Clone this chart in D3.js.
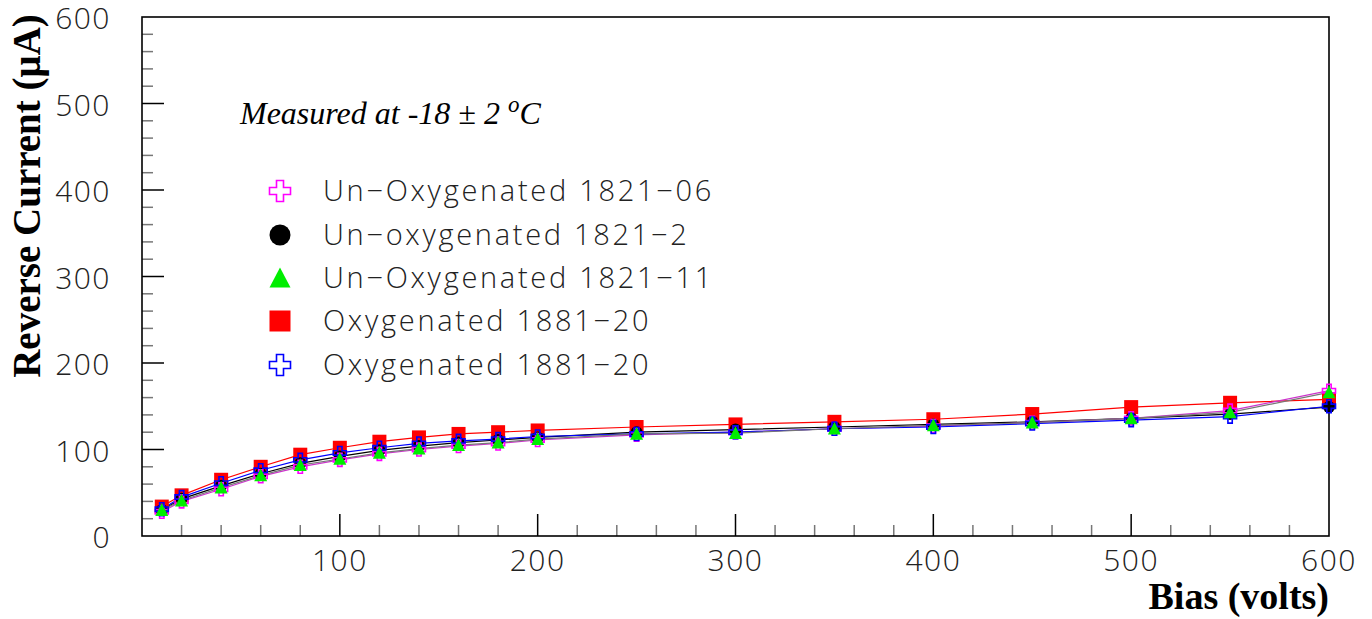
<!DOCTYPE html>
<html>
<head>
<meta charset="utf-8">
<script src="https://cdn.jsdelivr.net/npm/d3@7"></script>
<style>
  html, body { margin: 0; padding: 0; background: #fff; }
  svg { display: block; }
  .tick-label { font-family: "Open Sans", "DejaVu Sans", sans-serif; font-weight: 300; font-size: 30px; letter-spacing: 1.5px; fill: #222; }
  .legend-label { font-family: "Open Sans", "DejaVu Sans", sans-serif; font-weight: 300; font-size: 29px; letter-spacing: 2.7px; fill: #222; }
  .axis-title { font-family: "Liberation Serif", "Times New Roman", serif; font-weight: bold; fill: #000; }
</style>
</head>
<body>
<svg id="chart" width="1372" height="619"></svg>
<script>
// Bias voltages (V)
const bias = [10, 20, 40, 60, 80, 100, 120, 140, 160, 180, 200, 250, 300, 350, 400, 450, 500, 550, 600];

// Reverse current (µA) per detector
const unOxy1821_06 = [28, 40, 54, 69, 80, 88, 95, 100, 104, 107, 111, 117, 120, 124, 127, 131, 136, 145, 168];
const unOxy1821_2  = [30, 43, 58, 72, 84, 92, 99, 104, 108, 111, 114, 120, 123, 126, 129, 132, 136, 141, 149];
const unOxy1821_11 = [30, 41, 56, 70, 82, 89, 96, 101, 105, 108, 112, 118, 119, 124, 128, 131, 136, 143, 166];
const oxy1881_20a  = [34, 47, 65, 80, 94, 102, 109, 114, 118, 120, 122, 126, 129, 132, 135, 141, 149, 154, 158];
const oxy1881_20b  = [31, 45, 61, 76, 88, 96, 102, 107, 110, 112, 115, 118, 120, 124, 126, 130, 134, 138, 150];

const legendNames = ["Un\u2212Oxygenated 1821\u221206", "Un\u2212oxygenated 1821\u22122", "Un\u2212Oxygenated 1821\u221211", "Oxygenated 1881\u221220", "Oxygenated 1881\u221220"];
const xTickValues = [100, 200, 300, 400, 500, 600];
const yTickValues = [0, 100, 200, 300, 400, 500, 600];

const series = [
  { name: legendNames[0], values: unOxy1821_06, color: "#ff00ff", line: "#cc33cc", marker: "openCross" },
  { name: legendNames[1], values: unOxy1821_2,  color: "#000000", line: "#000000", marker: "circle" },
  { name: legendNames[2], values: unOxy1821_11, color: "#00ee00", line: "#777777", marker: "triangle" },
  { name: legendNames[3], values: oxy1881_20a,  color: "#ff0000", line: "#ff0000", marker: "square" },
  { name: legendNames[4], values: oxy1881_20b,  color: "#0000ff", line: "#0000ff", marker: "openCross" }
];

const svg = d3.select("#chart");
const frame = { left: 142, right: 1329, top: 17, bottom: 536 };

const x = d3.scaleLinear().domain([0, 600]).range([frame.left, frame.right]);
const y = d3.scaleLinear().domain([0, 600]).range([frame.bottom, frame.top]);

// Marker path generators
function crossPath(s) {
  const a = s / 2, b = s / 6;
  return `M${-b},${-a}H${b}V${-b}H${a}V${b}H${b}V${a}H${-b}V${b}H${-a}V${-b}H${-b}Z`;
}
function drawMarker(g, type, color, size) {
  if (type === "square") {
    g.append("rect").attr("x", -size / 2).attr("y", -size / 2).attr("width", size).attr("height", size).attr("fill", color);
  } else if (type === "circle") {
    g.append("circle").attr("r", size / 2).attr("fill", color);
  } else if (type === "triangle") {
    const h = size * 0.9;
    g.append("path").attr("d", `M0,${-h / 2 - 1}L${size / 2},${h / 2}L${-size / 2},${h / 2}Z`).attr("fill", color);
  } else if (type === "openCross") {
    g.append("path").attr("d", crossPath(size)).attr("fill", "none").attr("stroke", color).attr("stroke-width", 1.6);
  }
}

// Ticks: minor every 20, major every 100, pointing into the frame
const ticks = svg.append("g");
d3.range(20, 600, 20).forEach(v => {
  const major = v % 100 === 0;
  ticks.append("line")
    .attr("x1", frame.left).attr("x2", frame.left + (major ? 22 : 11))
    .attr("y1", y(v)).attr("y2", y(v))
    .attr("stroke", major ? "#000" : "#777").attr("stroke-width", 1.5);
  ticks.append("line")
    .attr("x1", x(v)).attr("x2", x(v))
    .attr("y1", frame.bottom).attr("y2", frame.bottom - (major ? 22 : 11))
    .attr("stroke", major ? "#000" : "#777").attr("stroke-width", 1.5);
});

// Frame
svg.append("rect")
  .attr("x", frame.left).attr("y", frame.top)
  .attr("width", frame.right - frame.left).attr("height", frame.bottom - frame.top)
  .attr("fill", "none").attr("stroke", "#000").attr("stroke-width", 1.6);

// Tick labels
svg.append("g").selectAll("text").data(yTickValues).join("text")
  .attr("class", "tick-label")
  .attr("x", 111).attr("y", d => y(d) + 12)
  .attr("text-anchor", "end")
  .text(d => d);
svg.append("g").selectAll("text").data(xTickValues).join("text")
  .attr("class", "tick-label")
  .attr("x", d => x(d)).attr("y", 571)
  .attr("text-anchor", "middle")
  .text(d => d);

// Axis titles
svg.append("text").attr("class", "axis-title")
  .attr("font-size", 39)
  .attr("transform", "translate(40,196) rotate(-90)")
  .attr("text-anchor", "middle")
  .text("Reverse Current (\u03bcA)");
svg.append("text").attr("class", "axis-title")
  .attr("font-size", 38)
  .attr("x", frame.right).attr("y", 609)
  .attr("text-anchor", "end")
  .text("Bias (volts)");

// Annotation
const note = svg.append("text")
  .attr("x", 240).attr("y", 124)
  .attr("font-family", "Liberation Serif, Times New Roman, serif")
  .attr("font-style", "italic").attr("font-size", 32).attr("fill", "#000");
note.append("tspan").text("Measured at -18 \u00b1 2 ");
note.append("tspan").attr("dy", -12).attr("font-size", 23).text("o");
note.append("tspan").attr("dy", 12).text("C");

// Series lines and markers
const line = d3.line().x((d, i) => x(bias[i])).y(d => y(d));
const drawOrder = [3, 1, 0, 4, 2];
drawOrder.forEach(k => {
  const s = series[k];
  svg.append("path").datum(s.values)
    .attr("d", line).attr("fill", "none")
    .attr("stroke", s.line).attr("stroke-width", 1.2);
});
drawOrder.forEach(k => {
  const s = series[k];
  const size = s.marker === "square" ? 14 : (s.marker === "circle" ? 12 : 13);
  s.values.forEach((v, i) => {
    const g = svg.append("g").attr("transform", `translate(${x(bias[i])},${y(v)})`);
    drawMarker(g, s.marker, s.color, size);
  });
});

// Legend
const legendRows = [191, 235, 278, 321, 365];
series.forEach((s, i) => {
  const g = svg.append("g").attr("transform", `translate(280,${legendRows[i]})`);
  drawMarker(g, s.marker, s.color, 21);
  svg.append("text").attr("class", "legend-label")
    .attr("x", 323).attr("y", legendRows[i] + 10)
    .text(s.name);
});
</script>
</body>
</html>
